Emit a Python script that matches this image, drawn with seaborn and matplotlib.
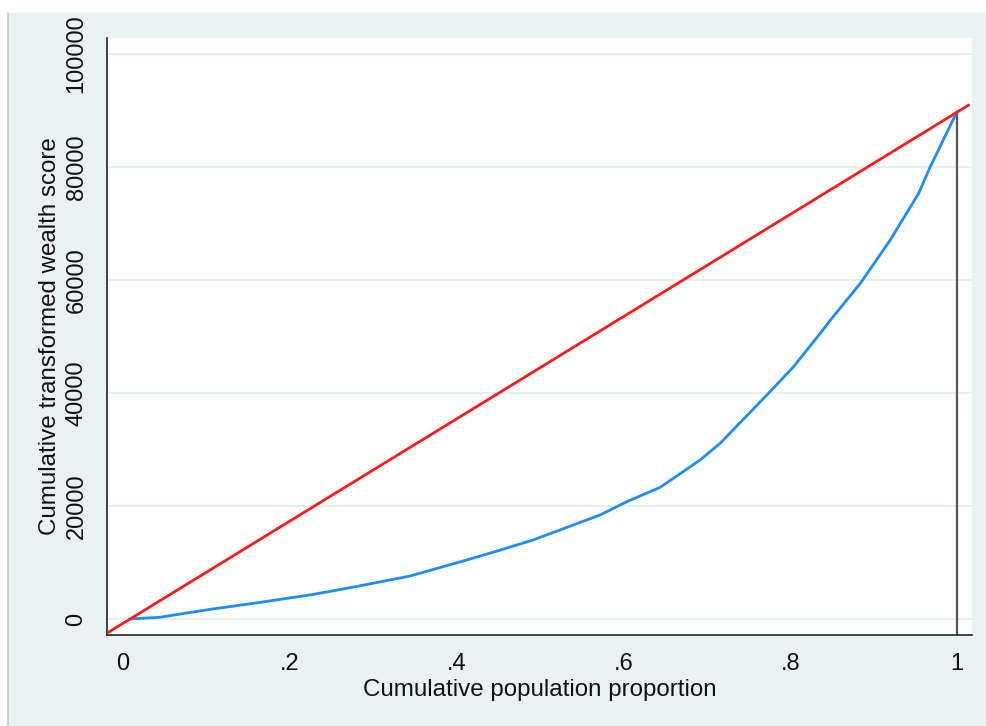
import matplotlib
matplotlib.use("Agg")
import matplotlib.pyplot as plt
from matplotlib.patches import Rectangle
from matplotlib.lines import Line2D
import seaborn as sns
import pandas as pd

# Lorenz curve: cumulative population share vs cumulative transformed wealth
pop_share = [0.008, 0.044, 0.104, 0.16, 0.224, 0.28, 0.344, 0.412, 0.45,
             0.492, 0.53, 0.572, 0.604, 0.644, 0.692, 0.716, 0.772, 0.804,
             0.836, 0.849, 0.884, 0.920, 0.954, 0.968, 1.0]
cum_wealth = [0, 300, 1700, 2850, 4250, 5750, 7600, 10440, 12100,
              14000, 16100, 18400, 20760, 23300, 28140, 31100, 39650, 44650,
              50560, 53040, 59400, 67080, 75340, 80060, 89790]

# Line of equality
equal_x = [-0.0195, 1.014]
equal_y = [-2530, 90970]

# Total wealth at full population
total_x = 1.0
total_y = 89790

x_ticks = [0, 0.2, 0.4, 0.6, 0.8, 1.0]
x_ticklabels = ["0", ".2", ".4", ".6", ".8", "1"]
y_ticks = [0, 20000, 40000, 60000, 80000, 100000]
y_ticklabels = ["0", "20000", "40000", "60000", "80000", "100000"]

sns.set_theme(style="white")
plt.rcParams["font.family"] = ["Liberation Sans", "DejaVu Sans"]

fig = plt.figure(figsize=(9.86, 7.26), dpi=100)
fig.patch.set_facecolor("white")

# Graph region background with a thin left border
W, H = 986, 726
bg = Rectangle((8 / W, 0), 1 - 8 / W, 1 - 13 / H, transform=fig.transFigure,
               facecolor="#eaf1f3", edgecolor="none", zorder=-10)
fig.patches.append(bg)
fig.lines.append(Line2D([8 / W, 8 / W], [0, 1 - 13 / H], transform=fig.transFigure,
                        color="#c4c8ca", lw=1.2, zorder=-9))

ax = fig.add_axes([107 / W, 1 - 635 / H, (972 - 107) / W, (635 - 38) / H])
ax.set_zorder(1)
ax.set_facecolor("white")

curve = pd.DataFrame({"x": pop_share, "y": cum_wealth})
equality = pd.DataFrame({"x": equal_x, "y": equal_y})

for yv in y_ticks:
    ax.axhline(yv, color="#e8eff1", lw=1.4, zorder=0)

ax.plot([total_x, total_x], [-5000, total_y], color="#555555", lw=1.6, zorder=2)
sns.lineplot(data=curve, x="x", y="y", ax=ax, color="#1e8bff", lw=2.0,
             sort=False, estimator=None, zorder=3)
sns.lineplot(data=equality, x="x", y="y", ax=ax, color="#ff1a1a", lw=2.0,
             sort=False, estimator=None, zorder=4)

ax.set_xlim(-0.0192, 1.018)
ax.set_ylim(-2832, 102830)

ax.set_xticks(x_ticks)
ax.set_xticklabels(x_ticklabels)
ax.set_yticks(y_ticks)
ax.set_yticklabels(y_ticklabels, rotation=90, va="center")

ax.tick_params(axis="both", which="major", length=7, width=1.2, color="#222222",
               labelsize=17, labelcolor="#111111", direction="out")
ax.tick_params(axis="x", pad=6)
ax.tick_params(axis="y", pad=7)

for side in ("top", "right"):
    ax.spines[side].set_visible(False)
for side in ("left", "bottom"):
    ax.spines[side].set_color("#222222")
    ax.spines[side].set_linewidth(1.2)

ax.set_xlabel("Cumulative population proportion", fontsize=17.4, color="#111111", labelpad=3)
ax.set_ylabel("Cumulative transformed wealth score", fontsize=17.4, color="#111111", labelpad=3)

fig.savefig("out.png", dpi=100, facecolor=fig.get_facecolor())
